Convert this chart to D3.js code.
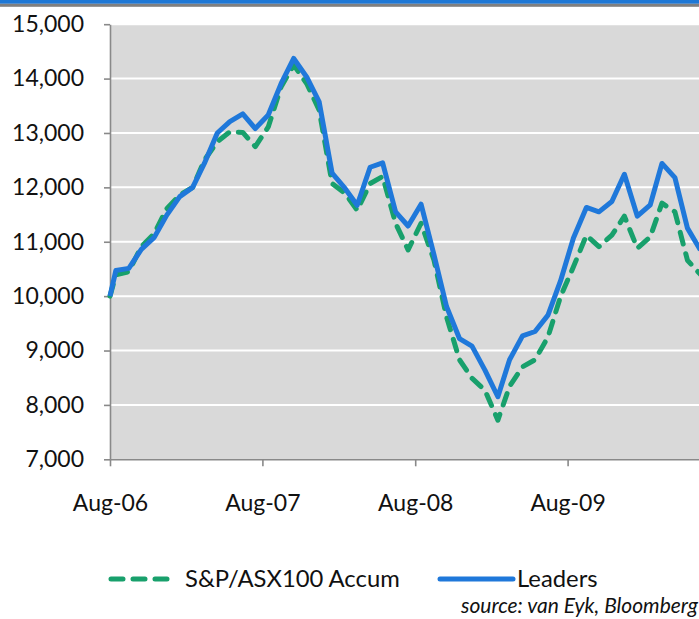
<!DOCTYPE html>
<html>
<head>
<meta charset="utf-8">
<script src="https://cdn.jsdelivr.net/npm/d3@7"></script>
<style>
  body { margin: 0; background: #fff; }
  svg { display: block; font-family: Lato, "Open Sans", sans-serif; }
</style>
</head>
<body>
<div id="chart"></div>
<script>
// ==== DATA ====
// first point is the 10,000 base, then month readings
const DATES = [
  "2006-08-01",
  "2006-08-15","2006-09-15","2006-10-15","2006-11-15","2006-12-15",
  "2007-01-15","2007-02-15","2007-03-15","2007-04-15","2007-05-15","2007-06-15",
  "2007-07-15","2007-08-15","2007-09-15","2007-10-15","2007-11-15","2007-12-15",
  "2008-01-15","2008-02-15","2008-03-15","2008-04-15","2008-05-15","2008-06-15",
  "2008-07-15","2008-08-15","2008-09-15","2008-10-15","2008-11-15","2008-12-15",
  "2009-01-15","2009-02-15","2009-03-15","2009-04-15","2009-05-15","2009-06-15",
  "2009-07-15","2009-08-15","2009-09-15","2009-10-15","2009-11-15","2009-12-15",
  "2010-01-15","2010-02-15","2010-03-15","2010-04-15","2010-05-15","2010-06-15"
];
const ASX100 = [
  10000,
  10390, 10450, 10910, 11150, 11610,
  11860, 12000, 12500, 12840, 13020, 13010,
  12750, 13110, 13850, 14250, 13910, 13420,
  12070, 11890, 11580, 12070, 12200, 11340,
  10850, 11340, 10660, 9620, 8830, 8490,
  8270, 7720, 8340, 8700, 8830, 9250,
  9990, 10540, 11120, 10910, 11120, 11470,
  10880, 11090, 11710, 11550, 10660, 10400
];
const LEADERS = [
  10000,
  10470, 10510, 10860, 11080, 11490,
  11830, 12000, 12440, 13000, 13210, 13350,
  13080, 13330, 13910, 14370, 14030, 13570,
  12260, 11980, 11670, 12370, 12450, 11550,
  11290, 11690, 10760, 9810, 9220, 9080,
  8640, 8150, 8830, 9270, 9350, 9650,
  10280, 11070, 11630, 11550, 11740, 12240,
  11470, 11680, 12440, 12180, 11250, 10850
];
const Y_TICKS = [7000, 8000, 9000, 10000, 11000, 12000, 13000, 14000, 15000];
const X_TICKS = ["2006-08-01", "2007-08-01", "2008-08-01", "2009-08-01"];
const X_LABELS = ["Aug-06", "Aug-07", "Aug-08", "Aug-09"];
const SERIES_NAMES = ["S&P/ASX100 Accum", "Leaders"];

// ==== SIZE ====
const width = 699;
const height = 619;
const plot = { left: 110, right: 720, top: 24.2, bottom: 459.3 };

const BLUE = "#1f78da";
const GREEN = "#18a06c";
const AXIS_GREY = "#898989";
const DASH = "12,10";

const parse = d3.timeParse("%Y-%m-%d");

// ==== SCALES ====
const x = d3.scaleTime()
  .domain([parse("2006-08-01"), parse("2010-08-01")])
  .range([plot.left, plot.right]);
const y = d3.scaleLinear()
  .domain([7000, 15000])
  .range([plot.bottom, plot.top]);

const svg = d3.select("#chart")
  .append("svg")
  .attr("width", width)
  .attr("height", height)
  .attr("viewBox", `0 0 ${width} ${height}`);

// top band (cut-off header of the page)
svg.append("rect").attr("x", 0).attr("y", 0).attr("width", width).attr("height", 3.8).attr("fill", "#1e78d6");
svg.append("rect").attr("x", 0).attr("y", 3.8).attr("width", width).attr("height", 3).attr("fill", "#808080");

// plot background
svg.append("rect")
  .attr("x", plot.left)
  .attr("y", plot.top)
  .attr("width", plot.right - plot.left)
  .attr("height", plot.bottom - plot.top)
  .attr("fill", "#d9d9d9");

// gridlines
svg.append("g")
  .selectAll("line")
  .data(Y_TICKS.slice(1))
  .join("line")
  .attr("x1", plot.left)
  .attr("x2", plot.right)
  .attr("y1", d => y(d))
  .attr("y2", d => y(d))
  .attr("stroke", "#fff")
  .attr("stroke-width", 2);

// ==== AXES ====
const gy = svg.append("g")
  .attr("transform", `translate(${plot.left},0)`)
  .call(d3.axisLeft(y).tickValues(Y_TICKS).tickSize(6).tickSizeOuter(0).tickPadding(20).tickFormat(d3.format(",")));

const gx = svg.append("g")
  .attr("transform", `translate(0,${plot.bottom})`)
  .call(d3.axisBottom(x).tickValues(X_TICKS.map(parse)).tickSize(7).tickSizeOuter(0).tickPadding(28)
    .tickFormat((d, i) => X_LABELS[i]));

[gx, gy].forEach(g => {
  g.select(".domain").attr("stroke", AXIS_GREY).attr("stroke-width", 1.6);
  g.selectAll(".tick line").attr("stroke", AXIS_GREY).attr("stroke-width", 1.6);
  g.selectAll(".tick text")
    .attr("fill", "#111")
    .attr("font-size", 23)
    .attr("font-family", "Lato, sans-serif");
});

// ==== LINES ====
const line = d3.line()
  .x((d, i) => x(parse(DATES[i])))
  .y(d => y(d));

svg.append("path")
  .attr("fill", "none")
  .attr("stroke", GREEN)
  .attr("stroke-width", 5)
  .attr("stroke-dasharray", DASH)
  .attr("stroke-linecap", "round")
  .attr("stroke-linejoin", "round")
  .attr("d", line(ASX100));

svg.append("path")
  .attr("fill", "none")
  .attr("stroke", BLUE)
  .attr("stroke-width", 5)
  .attr("stroke-linejoin", "round")
  .attr("d", line(LEADERS));

// ==== LEGEND ====
const legendY = 579;
svg.append("line")
  .attr("x1", 111).attr("x2", 167)
  .attr("y1", legendY).attr("y2", legendY)
  .attr("stroke", GREEN)
  .attr("stroke-width", 5)
  .attr("stroke-dasharray", DASH)
  .attr("stroke-linecap", "round");
svg.append("text")
  .attr("x", 185).attr("y", legendY + 8)
  .attr("font-size", 23.8).attr("fill", "#111")
  .text(SERIES_NAMES[0]);

svg.append("line")
  .attr("x1", 440).attr("x2", 513)
  .attr("y1", legendY).attr("y2", legendY)
  .attr("stroke", BLUE)
  .attr("stroke-width", 5)
  .attr("stroke-linecap", "round");
svg.append("text")
  .attr("x", 517).attr("y", legendY + 8)
  .attr("font-size", 23.8).attr("fill", "#111")
  .text(SERIES_NAMES[1]);

// source note
svg.append("text")
  .attr("x", 698).attr("y", 613)
  .attr("text-anchor", "end")
  .attr("font-size", 21)
  .attr("font-style", "italic")
  .attr("fill", "#111")
  .text("source: van Eyk, Bloomberg");
</script>
</body>
</html>
